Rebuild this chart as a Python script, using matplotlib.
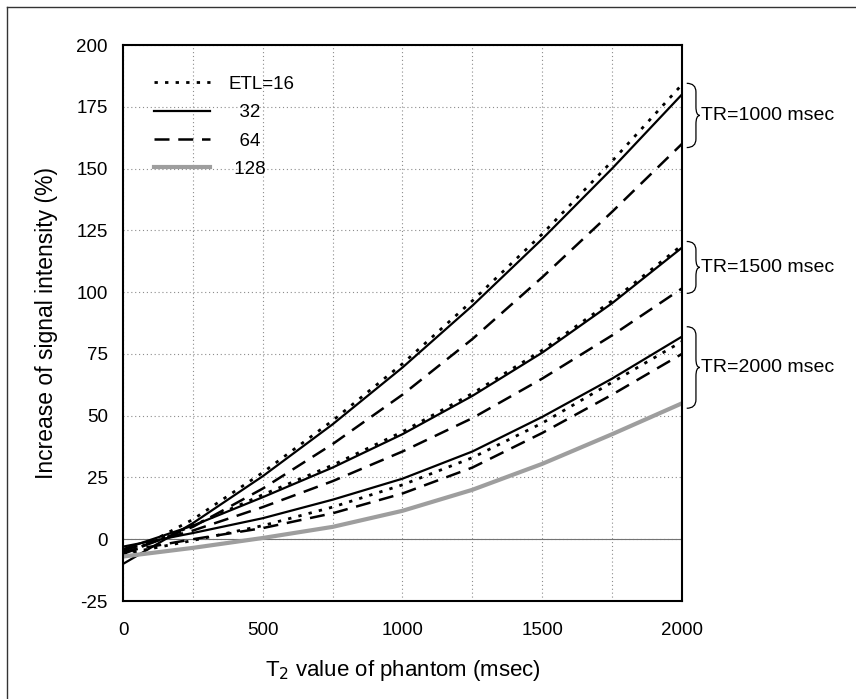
import numpy as np
import matplotlib
matplotlib.use("Agg")
import matplotlib.pyplot as plt
from matplotlib.path import Path
from matplotlib.patches import PathPatch
from matplotlib.lines import Line2D

plt.rcParams['font.family'] = ['Liberation Sans', 'DejaVu Sans']
plt.rcParams['axes.unicode_minus'] = False

# T2 of phantom (msec)
t2 = [0, 250, 500, 750, 1000, 1250, 1500, 1750, 2000]

# increase of signal intensity (%)
tr1000_etl16 = [-7, 8, 27, 48, 71, 96.5, 123.5, 153, 184]
tr1000_etl32 = [-10, 6.5, 25.5, 46.5, 69.5, 94.5, 121.5, 150, 180]
tr1000_etl64 = [-6, 5, 20.5, 38.5, 58.5, 81, 106, 132.5, 160]
tr1500_etl16 = [-6, 5.5, 18, 30, 43.5, 59, 76.5, 96.5, 119]
tr1500_etl32 = [-4, 5.5, 17, 29, 42.5, 58, 75.5, 95.5, 118]
tr1500_etl64 = [-4.5, 3.5, 13, 23.5, 35.5, 49, 65, 82.5, 101.5]
tr2000_etl16 = [-6, -0.5, 5.5, 13, 22, 33, 47, 63.5, 80]
tr2000_etl32 = [-3, 2.5, 8.5, 16, 24.5, 35.5, 49.5, 65, 82]
tr2000_etl64 = [-5, 0, 4.5, 10.5, 18.5, 29, 43, 58.5, 75]
tr2000_etl128 = [-7, -3.5, 0.5, 5, 11.5, 20, 30.5, 42.5, 55]

legend_labels = ['ETL=16', '  32', '  64', ' 128']
bracket_labels = ['TR=1000 msec', 'TR=1500 msec', 'TR=2000 msec']
bracket_ranges = [(158.5, 184.5), (99.5, 120.5), (53, 86)]

fig = plt.figure(figsize=(8.56, 6.99), dpi=100)
ax = fig.add_axes([0.1437, 0.1402, 0.653, 0.7954])

dot = dict(color='black', lw=2.0, linestyle=(0, (1.2, 2.6)))
sol = dict(color='black', lw=1.6, linestyle='-')
dash = dict(color='black', lw=1.8, linestyle=(0, (6, 3.5)))
grey = dict(color='0.62', lw=3.0, linestyle='-')

ax.axhline(0, color='0.45', lw=0.8, zorder=1)

l16, = ax.plot(t2, tr1000_etl16, **dot)
l32, = ax.plot(t2, tr1000_etl32, **sol)
l64, = ax.plot(t2, tr1000_etl64, **dash)
ax.plot(t2, tr1500_etl16, **dot)
ax.plot(t2, tr1500_etl32, **sol)
ax.plot(t2, tr1500_etl64, **dash)
ax.plot(t2, tr2000_etl16, **dot)
ax.plot(t2, tr2000_etl32, **sol)
ax.plot(t2, tr2000_etl64, **dash)
l128, = ax.plot(t2, tr2000_etl128, **grey)

ax.set_xlim(0, 2000)
ax.set_ylim(-25, 200)
ax.set_xticks([0, 500, 1000, 1500, 2000])
ax.set_yticks(np.arange(-25, 201, 25))
ax.set_xticks(np.arange(0, 2001, 250), minor=True)
ax.grid(True, which='both', color='0.55', lw=0.8, linestyle=(0, (1, 2.5)))
ax.set_axisbelow(True)
ax.tick_params(which='both', length=0, labelsize=13.5)
ax.tick_params(axis='x', pad=15)
ax.tick_params(axis='y', pad=11)
for s in ax.spines.values():
    s.set_linewidth(1.5)

ax.set_xlabel('T$_2$ value of phantom (msec)', fontsize=16, labelpad=14)
ax.set_ylabel('Increase of signal intensity (%)', fontsize=16.5, labelpad=13)

leg = ax.legend([l16, l32, l64, l128], legend_labels, loc='upper left',
                bbox_to_anchor=(0.025, 0.975), frameon=False, fontsize=13.5,
                handlelength=3.0, handletextpad=1.0, labelspacing=0.6)

# curly brackets on the right side
def brace(y0, y1, xt=2017, xs=2050, xm=2064, r=3.5):
    ym = (y0 + y1) / 2
    verts = [(xt, y1), (xs, y1), (xs, y1 - r),
             (xs, ym + r), (xs, ym), (xm, ym),
             (xs, ym), (xs, ym - r),
             (xs, y0 + r), (xs, y0), (xt, y0)]
    codes = [Path.MOVETO, Path.CURVE3, Path.CURVE3,
             Path.LINETO, Path.CURVE3, Path.CURVE3,
             Path.CURVE3, Path.CURVE3,
             Path.LINETO, Path.CURVE3, Path.CURVE3]
    p = PathPatch(Path(verts, codes), fill=False, lw=0.9, color='black',
                  clip_on=False)
    ax.add_patch(p)
    return ym

for (y0, y1), lab in zip(bracket_ranges, bracket_labels):
    ym = brace(y0, y1)
    ax.text(2068, ym, lab, fontsize=14, va='center', ha='left',
            clip_on=False)

# outer frame (cut off at the right and bottom)
fig.add_artist(Line2D([7 / 856, 1.0], [1 - 7 / 699, 1 - 7 / 699],
                      color='0.2', lw=1.0, transform=fig.transFigure))
fig.add_artist(Line2D([7 / 856, 7 / 856], [0.0, 1 - 7 / 699],
                      color='0.2', lw=1.0, transform=fig.transFigure))

fig.savefig('out.png', dpi=100)
